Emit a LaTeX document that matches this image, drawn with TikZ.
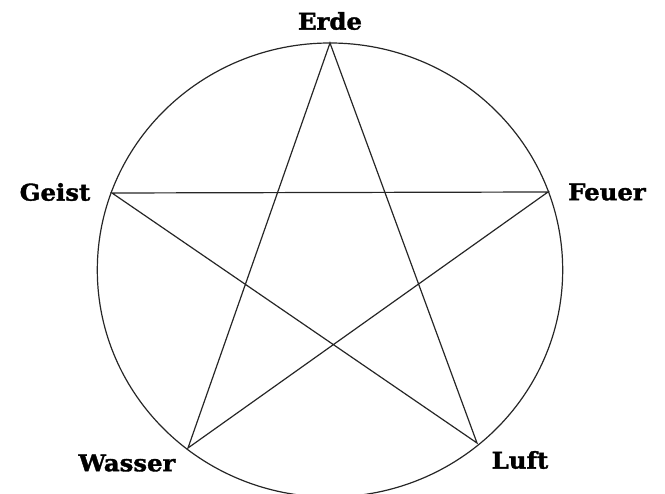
\documentclass[tikz,border=0pt]{standalone}
\usepackage{fontspec}
\newfontfamily\labelfont{DejaVu Serif Bold}[FakeBold=1.6, FakeStretch=1.06]
\usetikzlibrary{positioning}

\begin{document}
\begin{tikzpicture}[
    x=1pt, y=-1pt,
    element/.style={font=\labelfont\fontsize{23}{26}\selectfont, inner sep=0pt},
    starline/.style={line width=1.2pt, draw=black!85, line join=miter}
]
\useasboundingbox (0,0) rectangle (665,494);

% points of the star
\coordinate (erde) at (330,43);
\coordinate (feuer) at (548,192);
\coordinate (luft) at (477,443);
\coordinate (wasser) at (188,448);
\coordinate (geist) at (112,193);

% circle round the star
\draw[starline] (330,270) ellipse [x radius=232.7, y radius=227];

% pentagram
\draw[starline] (erde) -- (wasser) -- (feuer) -- (geist) -- (luft) -- cycle;

% labels
\node[element] (erdelabel) at (330,21) {Erde};
\node[element] (feuerlabel) at (607,192) {Feuer};
\node[element] (luftlabel) at (520,460) {Luft};
\node[element] (wasserlabel) at (127,463) {Wasser};
\node[element] (geistlabel) at (55,192) {Geist};

\end{tikzpicture}
\end{document}
